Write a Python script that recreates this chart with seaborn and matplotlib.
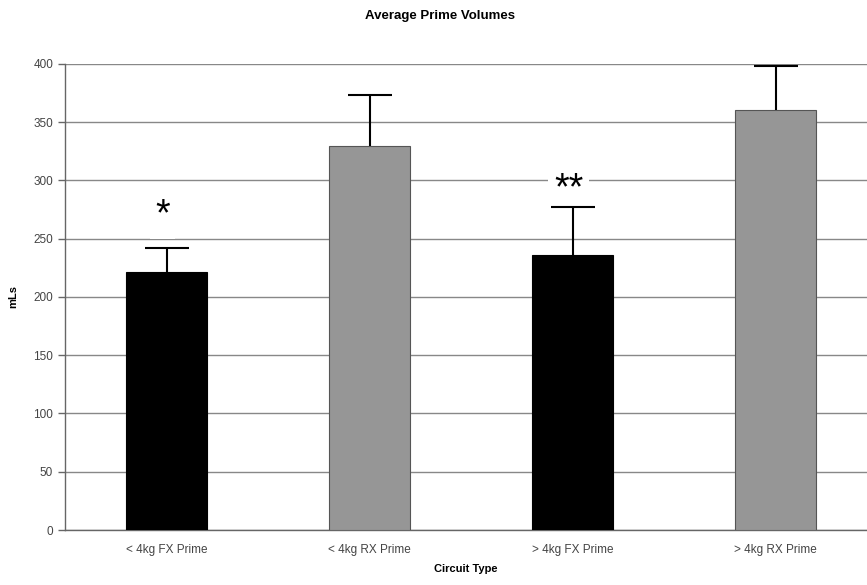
import pandas as pd
import seaborn as sns
import numpy as np
import matplotlib.pyplot as plt

# values
circuits = ['< 4kg FX Prime', '< 4kg RX Prime', '> 4kg FX Prime', '> 4kg RX Prime']
means = [221.5, 329.5, 236, 360]
upper = [242, 373, 277.5, 398.5]
marks = ['*', '', '**', '']
mark_y = [270, 0, 292, 0]

sns.set_style('white')
plt.rcParams['font.family'] = ['Liberation Sans', 'DejaVu Sans']

df = pd.DataFrame({'Circuit Type': circuits, 'mLs': means})

fig = plt.figure(figsize=(8.67, 5.85), dpi=100)
ax = fig.add_axes([0.075, 0.094, 0.925, 0.797])

sns.barplot(x='Circuit Type', y='mLs', data=df, hue='Circuit Type',
            palette=['#000000', '#969696', '#000000', '#969696'],
            width=0.4, legend=False, ax=ax, zorder=3)
for p, ec in zip(ax.patches, ['#000000', '#555555', '#000000', '#555555']):
    p.set_edgecolor(ec)
    p.set_linewidth(0.8)

err = np.array(upper) - np.array(means)
eb = ax.errorbar(np.arange(4), means, yerr=[np.zeros(4), err], fmt='none',
                 ecolor='black', elinewidth=1.5, capsize=16, capthick=1.5, zorder=6)
eb[1][0].set_visible(False)  # upper-only error bars

for i, (m, y) in enumerate(zip(marks, mark_y)):
    if m:
        ax.text(i - 0.02, y, m, ha='center', va='center', fontsize=27, color='black',
                bbox=dict(facecolor='white', edgecolor='none', pad=4), zorder=5)

ax.set_ylim(0, 400)
ax.set_xlim(-0.5, 3.45)
ax.set_yticks(np.arange(0, 401, 50))
ax.yaxis.grid(True, color='#888888', linewidth=1.0, zorder=0)
ax.set_axisbelow(True)

ax.set_xticks(np.arange(4))
ax.set_xticklabels(circuits)
ax.set_xticks(np.arange(-0.5, 3.5, 1), minor=True)
ax.tick_params(axis='x', which='major', length=0, labelsize=8.5, labelcolor='#444444', pad=10)
ax.tick_params(axis='x', which='minor', length=5, width=1, color='#666666', direction='out')
ax.tick_params(axis='y', length=5, width=1, color='#666666', direction='out',
               labelsize=8.5, labelcolor='#444444', left=True)

for s in ['top', 'right']:
    ax.spines[s].set_visible(False)
for s in ['left', 'bottom']:
    ax.spines[s].set_color('#666666')
    ax.spines[s].set_linewidth(1.0)

ax.set_xlabel('Circuit Type', fontsize=8, fontweight='bold', color='black', labelpad=6)
ax.set_ylabel('mLs', fontsize=8, fontweight='bold', color='black')
ax.yaxis.set_label_coords(-0.058, 0.5)
fig.text(0.507, 0.972, 'Average Prime Volumes', ha='center', va='center',
         fontsize=9.5, fontweight='bold', color='black')

fig.savefig('out.png', dpi=100)
